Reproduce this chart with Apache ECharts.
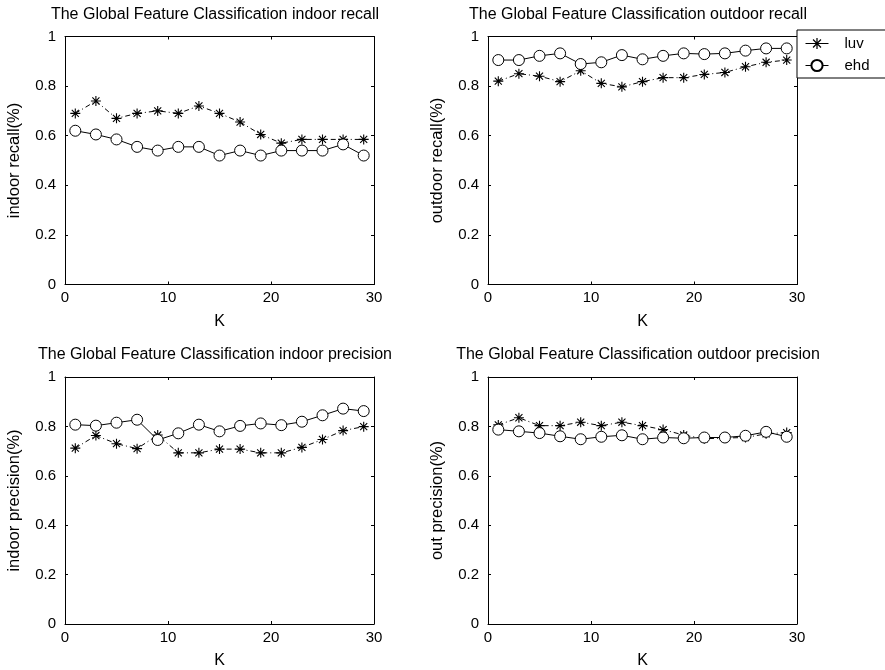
<!DOCTYPE html>
<html>
<head>
<meta charset="utf-8">
<script src="https://cdn.jsdelivr.net/npm/echarts@6/dist/echarts.min.js"></script>
<style>
html,body{margin:0;padding:0;background:#fff;}
#chart{width:885px;height:670px;}
</style>
</head>
<body>
<div id="chart"></div>
<script>
const K = [1,3,5,7,9,11,13,15,17,19,21,23,25,27,29];
const xTicks = [0,10,20,30];
const yTicks = [0,0.2,0.4,0.6,0.8,1];
const seriesNames = ['luv','ehd'];

const indoorRecallLuv  = [0.69,0.74,0.67,0.69,0.70,0.69,0.72,0.69,0.655,0.605,0.57,0.585,0.585,0.585,0.585];
const indoorRecallEhd  = [0.62,0.605,0.585,0.555,0.54,0.555,0.555,0.52,0.54,0.52,0.54,0.54,0.54,0.565,0.52];
const outdoorRecallLuv = [0.82,0.85,0.84,0.818,0.862,0.811,0.797,0.818,0.834,0.834,0.847,0.855,0.878,0.896,0.905];
const outdoorRecallEhd = [0.905,0.905,0.922,0.932,0.889,0.896,0.925,0.908,0.922,0.932,0.929,0.932,0.943,0.952,0.952];
const indoorPrecLuv    = [0.712,0.763,0.73,0.71,0.765,0.693,0.693,0.708,0.708,0.693,0.693,0.715,0.747,0.783,0.799];
const indoorPrecEhd    = [0.807,0.803,0.815,0.827,0.745,0.772,0.807,0.78,0.802,0.812,0.805,0.819,0.845,0.872,0.862];
const outdoorPrecLuv   = [0.806,0.835,0.803,0.803,0.817,0.803,0.817,0.803,0.787,0.765,0.75,0.753,0.755,0.77,0.775];
const outdoorPrecEhd   = [0.787,0.78,0.773,0.76,0.748,0.758,0.764,0.748,0.755,0.752,0.755,0.755,0.762,0.778,0.758];

const titles = [
  'The Global Feature Classification indoor recall',
  'The Global Feature Classification outdoor recall',
  'The Global Feature Classification indoor precision',
  'The Global Feature Classification outdoor precision'
];
const yNames = ['indoor recall(%)','outdoor recall(%)','indoor precision(%)','out precision(%)'];
const xName = 'K';
const panels = [
  [indoorRecallLuv, indoorRecallEhd],
  [outdoorRecallLuv, outdoorRecallEhd],
  [indoorPrecLuv, indoorPrecEhd],
  [outdoorPrecLuv, outdoorPrecEhd]
];

function starPath(){
  const c = 5, w = 0.55;
  let d = '';
  [0,45,90,135].forEach(a => {
    const r = a*Math.PI/180, cs = Math.cos(r), sn = Math.sin(r);
    const len = 5;
    const pts = [[-w,-len],[w,-len],[w,len],[-w,len]].map(([x,y]) => [c + x*cs - y*sn, c + x*sn + y*cs]);
    d += 'M' + pts.map(p => p[0].toFixed(3) + ' ' + p[1].toFixed(3)).join(' L') + ' Z ';
  });
  return 'path://' + d;
}
const STAR = starPath();

const FONT = '"Liberation Sans", Arial, sans-serif';
const TICKFONT = '"Liberation Sans", Arial, sans-serif';
const NARROW = '"Liberation Sans Narrow", "Liberation Sans", Arial, sans-serif';
const grids = [
  {left:65, right:511, top:36.5, bottom:385.5},
  {left:488, right:88, top:36.5, bottom:385.5},
  {left:65, right:511, top:377, bottom:45.5},
  {left:488, right:88, top:377, bottom:45.5}
];
const titlePos = [
  {left:215, top:7},
  {left:638, top:7},
  {left:215, top:347},
  {left:638, top:347}
];

const option = {
  backgroundColor:'#fff',
  animation:false,
  title: titles.map((t,i) => ({
    text:t, left:titlePos[i].left, top:titlePos[i].top, textAlign:'center', padding:0,
    textStyle:{fontFamily:FONT, fontSize:16, fontWeight:'normal', color:'#000'}
  })),
  legend: {
    data: seriesNames,
    orient:'vertical', left:797, top:30,
    backgroundColor:'#fff', borderColor:'#000', borderWidth:1, borderRadius:0,
    padding:[6,40,5,8], itemWidth:23, itemHeight:14, itemGap:7,
    lineStyle:{type:'solid', width:1, color:'#000'},
    textStyle:{fontFamily:NARROW, fontSize:15, color:'#000', padding:[0,0,0,11]}
  },
  grid: grids,
  xAxis: [],
  yAxis: [],
  series: []
};

grids.forEach((g,i) => {
  const common = {min:0, max:30, interval:10, type:'value'};
  option.xAxis.push(Object.assign({}, common, {
    gridIndex:i, position:'bottom', name:xName, nameLocation:'middle', nameGap:29,
    nameTextStyle:{fontFamily:FONT, fontSize:16, color:'#000'},
    axisLine:{show:true, onZero:false, lineStyle:{color:'#000', width:1}},
    axisTick:{show:true, inside:true, length:3, lineStyle:{color:'#000'}},
    axisLabel:{fontFamily:TICKFONT, fontSize:15, color:'#000', margin:6},
    splitLine:{show:false}
  }));
  option.xAxis.push(Object.assign({}, common, {
    gridIndex:i, position:'top',
    axisLine:{show:true, onZero:false, lineStyle:{color:'#000', width:1}},
    axisTick:{show:true, inside:true, length:3, lineStyle:{color:'#000'}},
    axisLabel:{show:false}, splitLine:{show:false}
  }));
  const ycommon = {min:0, max:1, interval:0.2, type:'value'};
  option.yAxis.push(Object.assign({}, ycommon, {
    gridIndex:i, position:'left', name:yNames[i], nameLocation:'middle', nameGap:42,
    nameTextStyle:{fontFamily:FONT, fontSize:16.5, color:'#000'},
    axisLine:{show:true, onZero:false, lineStyle:{color:'#000', width:1}},
    axisTick:{show:true, inside:true, length:3, lineStyle:{color:'#000'}},
    axisLabel:{fontFamily:NARROW, fontSize:15, color:'#000', margin:9},
    splitLine:{show:false}
  }));
  option.yAxis.push(Object.assign({}, ycommon, {
    gridIndex:i, position:'right',
    axisLine:{show:true, onZero:false, lineStyle:{color:'#000', width:1}},
    axisTick:{show:true, inside:true, length:3, lineStyle:{color:'#000'}},
    axisLabel:{show:false}, splitLine:{show:false}
  }));
  const [luv, ehd] = panels[i];
  option.series.push({
    name:seriesNames[0], type:'line', xAxisIndex:2*i, yAxisIndex:2*i,
    data:K.map((k,j) => [k, luv[j]]),
    symbol:STAR, symbolSize:10, showAllSymbol:true,
    itemStyle:{color:'#000'},
    lineStyle:{color:'#000', width:1, type:[5,3,1,3]},
    z:2
  });
  option.series.push({
    name:seriesNames[1], type:'line', xAxisIndex:2*i, yAxisIndex:2*i,
    data:K.map((k,j) => [k, ehd[j]]),
    symbol:'circle', symbolSize:11, showAllSymbol:true,
    itemStyle:{color:'#fff', borderColor:'#000', borderWidth:1},
    lineStyle:{color:'#000', width:1, type:'solid'},
    z:3
  });
});

const chart = echarts.init(document.getElementById('chart'), null, {renderer:'canvas'});
chart.setOption(option);
</script>
</body>
</html>
